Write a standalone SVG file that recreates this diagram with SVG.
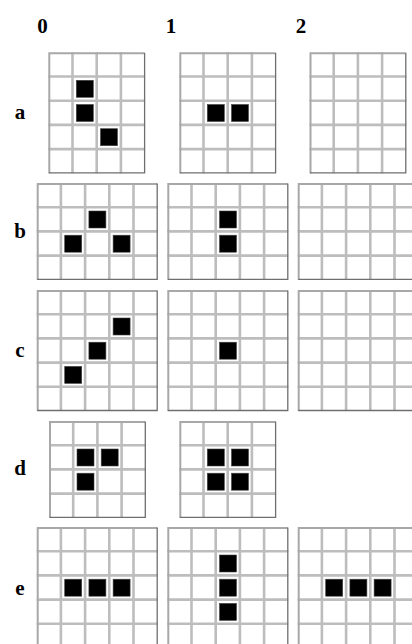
<svg xmlns="http://www.w3.org/2000/svg" width="412" height="644" viewBox="0 0 412 644">
<style>
.lbl{font-family:"Liberation Serif","Times New Roman",serif;font-weight:bold;font-size:21px;fill:#000;text-anchor:middle}
.bg{fill:#fff}
.in{fill:none;stroke:#bdbdbd;stroke-width:2.6}
.hl{fill:none;stroke:#e2e2e2;stroke-width:0.8}
.ot{fill:none;stroke:#a8a8a8;stroke-width:2}
.dk{fill:none;stroke:#6f6f6f;stroke-width:1.3}
.on{fill:#000;stroke:#444;stroke-width:0.6}
</style>
<defs>
<g id="g45">
<rect class="bg" x="0" y="0" width="96.8" height="121"/>
<path class="in" d="M24.2 0V121M48.4 0V121M72.6 0V121M0 24.2H96.8M0 48.4H96.8M0 72.6H96.8M0 96.8H96.8"/>
<path class="ot" d="M1 121V1H96"/>
<path class="dk" d="M96.3 0.5V120.5H0.5"/>
</g>
<g id="g54">
<rect class="bg" x="0" y="0" width="121" height="96.8"/>
<path class="in" d="M24.2 0V96.8M48.4 0V96.8M72.6 0V96.8M96.8 0V96.8M0 24.2H121M0 48.4H121M0 72.6H121"/>
<path class="ot" d="M1 96.8V1H120.5"/>
<path class="dk" d="M120.5 0.5V96.3H0.5"/>
</g>
<g id="g55">
<rect class="bg" x="0" y="0" width="121" height="121"/>
<path class="in" d="M24.2 0V121M48.4 0V121M72.6 0V121M96.8 0V121M0 24.2H121M0 48.4H121M0 72.6H121M0 96.8H121"/>
<path class="ot" d="M1 121V1H120.5"/>
<path class="dk" d="M120.5 0.5V120.5H0.5"/>
</g>
<g id="g44">
<rect class="bg" x="0" y="0" width="96.8" height="96.8"/>
<path class="in" d="M24.2 0V96.8M48.4 0V96.8M72.6 0V96.8M0 24.2H96.8M0 48.4H96.8M0 72.6H96.8"/>
<path class="ot" d="M1 96.8V1H96"/>
<path class="dk" d="M96.3 0.5V96.3H0.5"/>
</g>
<rect id="on" class="on" x="3.8" y="3.8" width="17" height="17"/>
</defs>

<g id="col-labels">
<text class="lbl" x="42.5" y="33">0</text>
<text class="lbl" x="171" y="33">1</text>
<text class="lbl" x="301" y="33">2</text>
</g>
<g id="row-labels">
<text class="lbl" x="20" y="119">a</text>
<text class="lbl" x="20" y="238">b</text>
<text class="lbl" x="20" y="357">c</text>
<text class="lbl" x="20" y="475">d</text>
<text class="lbl" x="20" y="595">e</text>
</g>

<g id="a0" transform="translate(48.3 52.3)">
<use href="#g45"/>
<use href="#on" x="24.2" y="24.2"/><use href="#on" x="24.2" y="48.4"/><use href="#on" x="48.4" y="72.6"/>
</g>
<g id="a1" transform="translate(179.3 52.3)">
<use href="#g45"/>
<use href="#on" x="24.2" y="48.4"/><use href="#on" x="48.4" y="48.4"/>
</g>
<g id="a2" transform="translate(309.5 52.3)">
<use href="#g45"/>
</g>

<g id="b0" transform="translate(36.7 183)">
<use href="#g54"/>
<use href="#on" x="48.4" y="24.2"/><use href="#on" x="24.2" y="48.4"/><use href="#on" x="72.6" y="48.4"/>
</g>
<g id="b1" transform="translate(167.3 183)">
<use href="#g54"/>
<use href="#on" x="48.4" y="24.2"/><use href="#on" x="48.4" y="48.4"/>
</g>
<g id="b2" transform="translate(297.7 183)">
<use href="#g54"/>
</g>

<g id="c0" transform="translate(36.7 290)">
<use href="#g55"/>
<use href="#on" x="72.6" y="24.2"/><use href="#on" x="48.4" y="48.4"/><use href="#on" x="24.2" y="72.6"/>
</g>
<g id="c1" transform="translate(167.3 290)">
<use href="#g55"/>
<use href="#on" x="48.4" y="48.4"/>
</g>
<g id="c2" transform="translate(297.7 290)">
<use href="#g55"/>
</g>

<g id="d0" transform="translate(49 421)">
<use href="#g44"/>
<use href="#on" x="24.2" y="24.2"/><use href="#on" x="48.4" y="24.2"/><use href="#on" x="24.2" y="48.4"/>
</g>
<g id="d1" transform="translate(179.3 421)">
<use href="#g44"/>
<use href="#on" x="24.2" y="24.2"/><use href="#on" x="48.4" y="24.2"/><use href="#on" x="24.2" y="48.4"/><use href="#on" x="48.4" y="48.4"/>
</g>

<g id="e0" transform="translate(36.7 527)">
<use href="#g55"/>
<use href="#on" x="24.2" y="48.4"/><use href="#on" x="48.4" y="48.4"/><use href="#on" x="72.6" y="48.4"/>
</g>
<g id="e1" transform="translate(167.3 527)">
<use href="#g55"/>
<use href="#on" x="48.4" y="24.2"/><use href="#on" x="48.4" y="48.4"/><use href="#on" x="48.4" y="72.6"/>
</g>
<g id="e2" transform="translate(297.7 527)">
<use href="#g55"/>
<use href="#on" x="24.2" y="48.4"/><use href="#on" x="48.4" y="48.4"/><use href="#on" x="72.6" y="48.4"/>
</g>
</svg>
